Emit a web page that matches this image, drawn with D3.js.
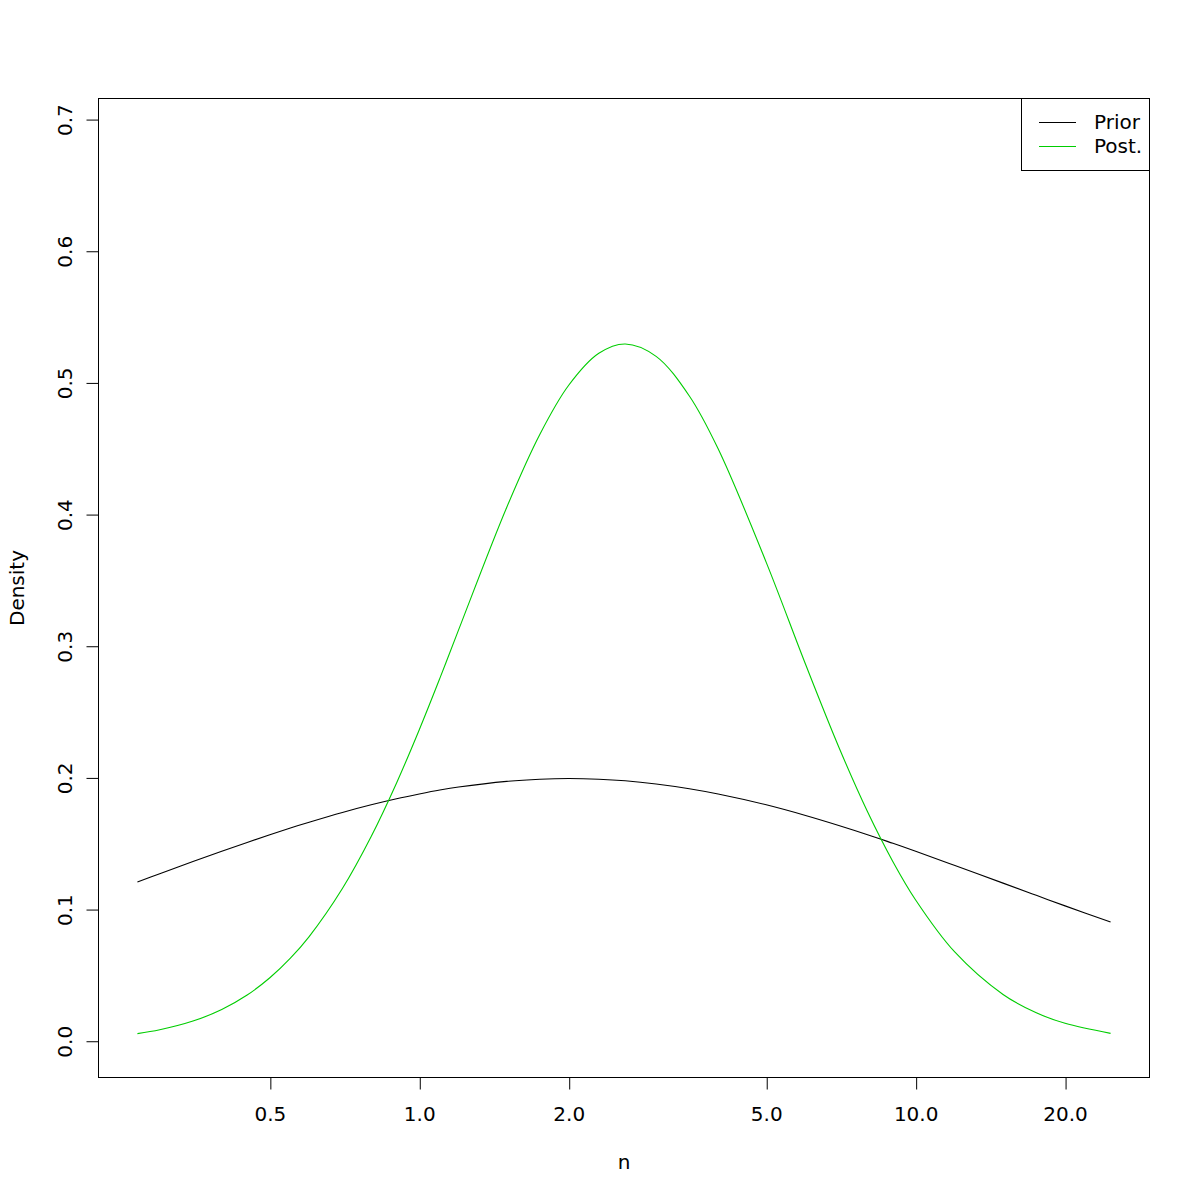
<!DOCTYPE html>
<html>
<head>
<meta charset="utf-8">
<script src="https://cdn.jsdelivr.net/npm/d3@7"></script>
<style>
  html, body { margin: 0; padding: 0; background: #ffffff; }
  svg { display: block; }
  text { font-family: "DejaVu Sans", sans-serif; fill: #000; }
</style>
</head>
<body>
<svg id="chart" width="1200" height="1200"></svg>
<script>
// ---- data ----
const nValues = [0.2705, 0.3, 0.35, 0.4, 0.45, 0.5, 0.55, 0.6, 0.7, 0.8, 0.9, 1.0, 1.1, 1.2, 1.5, 1.75, 2.0, 2.3, 2.6, 3.0, 3.5, 4, 5, 6, 7, 8, 9, 10, 12, 15, 17.5, 20, 24.7];
const priorDensity = [0.1210, 0.1272, 0.1365, 0.1443, 0.1510, 0.1569, 0.1620, 0.1664, 0.1738, 0.1796, 0.1842, 0.1878, 0.1908, 0.1931, 0.1974, 0.1990, 0.1995, 0.1990, 0.1978, 0.1954, 0.1918, 0.1878, 0.1796, 0.1715, 0.1639, 0.1569, 0.1503, 0.1443, 0.1335, 0.1201, 0.1108, 0.1028, 0.0905];
const postDensity = [0.0058, 0.0087, 0.0153, 0.0241, 0.0351, 0.0482, 0.0631, 0.0795, 0.1160, 0.1555, 0.1962, 0.2366, 0.2756, 0.3124, 0.4054, 0.4610, 0.4982, 0.5225, 0.5296, 0.5202, 0.4901, 0.4500, 0.3637, 0.2863, 0.2235, 0.1743, 0.1364, 0.1073, 0.0676, 0.0355, 0.0216, 0.0136, 0.0060];
const xTicks = [0.5, 1, 2, 5, 10, 20];
const xTickLabels = ["0.5", "1.0", "2.0", "5.0", "10.0", "20.0"];
const yTicks = [0, 0.1, 0.2, 0.3, 0.4, 0.5, 0.6, 0.7];
const yTickLabels = ["0.0", "0.1", "0.2", "0.3", "0.4", "0.5", "0.6", "0.7"];
const seriesNames = ["Prior", "Post."];
const seriesColors = ["#000000", "#00CD00"];

// ---- layout ----
const plot = { left: 98.5, right: 1149.5, top: 98.5, bottom: 1077.5 };
const svg = d3.select("#chart");
svg.append("rect").attr("width", 1200).attr("height", 1200).attr("fill", "#fff");

// R-style 4% axis expansion
const lx = d3.extent(nValues).map(Math.log10);
const px = (lx[1] - lx[0]) * 0.04;
const x = d3.scaleLog()
  .domain([Math.pow(10, lx[0] - px), Math.pow(10, lx[1] + px)])
  .range([plot.left, plot.right]);

const yLim = [0, 1.3 * d3.max(postDensity)];
const py = (yLim[1] - yLim[0]) * 0.04;
const y = d3.scaleLinear()
  .domain([yLim[0] - py, yLim[1] + py])
  .range([plot.bottom, plot.top]);

// clip
svg.append("clipPath").attr("id", "clip")
  .append("rect").attr("x", plot.left).attr("y", plot.top)
  .attr("width", plot.right - plot.left).attr("height", plot.bottom - plot.top);

// curves
const line = d3.line().x(d => x(d[0])).y(d => y(d[1])).curve(d3.curveCatmullRom.alpha(0.5));
const series = [priorDensity, postDensity];
series.forEach((vals, i) => {
  svg.append("path")
    .datum(nValues.map((n, k) => [n, vals[k]]))
    .attr("d", line)
    .attr("fill", "none")
    .attr("stroke", seriesColors[i])
    .attr("stroke-width", 1.1)
    .attr("clip-path", "url(#clip)");
});

// box
svg.append("rect")
  .attr("x", plot.left).attr("y", plot.top)
  .attr("width", plot.right - plot.left).attr("height", plot.bottom - plot.top)
  .attr("fill", "none").attr("stroke", "#000").attr("stroke-width", 1);

// x axis
const xAxis = d3.axisBottom(x).tickValues(xTicks)
  .tickFormat((d, i) => xTickLabels[i]).tickSize(12).tickPadding(0).tickSizeOuter(0);
const gx = svg.append("g").attr("transform", `translate(0,${plot.bottom})`).call(xAxis);
gx.select(".domain").remove();
gx.selectAll(".tick line").attr("stroke", "#000").attr("transform", "translate(0.5,0)");
gx.selectAll(".tick text").attr("dy", null).attr("y", 43.5)
  .style("font-family", "'DejaVu Sans', sans-serif").style("font-size", "20px").attr("fill", "#000");

// y axis
const yAxis = d3.axisLeft(y).tickValues(yTicks)
  .tickFormat((d, i) => yTickLabels[i]).tickSize(12).tickPadding(0).tickSizeOuter(0);
const gy = svg.append("g").attr("transform", `translate(${plot.left},0)`).call(yAxis);
gy.select(".domain").remove();
gy.selectAll(".tick line").attr("stroke", "#000");
gy.selectAll(".tick text")
  .attr("x", null).attr("dy", null).attr("y", null)
  .attr("text-anchor", "middle")
  .attr("transform", `translate(${72 - plot.left},0) rotate(-90)`)
  .style("font-family", "'DejaVu Sans', sans-serif").style("font-size", "20px").attr("fill", "#000");

// axis titles
svg.append("text").attr("x", 624).attr("y", 1168.5).attr("text-anchor", "middle")
  .style("font-size", "20px").text("n");
svg.append("text").attr("transform", "translate(23.5,588) rotate(-90)").attr("text-anchor", "middle")
  .style("font-size", "20px").text("Density");

// legend
const legend = svg.append("g");
legend.append("rect").attr("x", 1021.5).attr("y", plot.top).attr("width", plot.right - 1021.5)
  .attr("height", 170.5 - plot.top).attr("fill", "#fff").attr("stroke", "#000").attr("stroke-width", 1);
seriesNames.forEach((name, i) => {
  const ly = 122.5 + i * 24;
  legend.append("line").attr("x1", 1039).attr("x2", 1076).attr("y1", ly).attr("y2", ly)
    .attr("stroke", seriesColors[i]).attr("stroke-width", 1.1);
  legend.append("text").attr("x", 1094).attr("y", ly + 6.5).style("font-size", "20px").text(name);
});
</script>
</body>
</html>
